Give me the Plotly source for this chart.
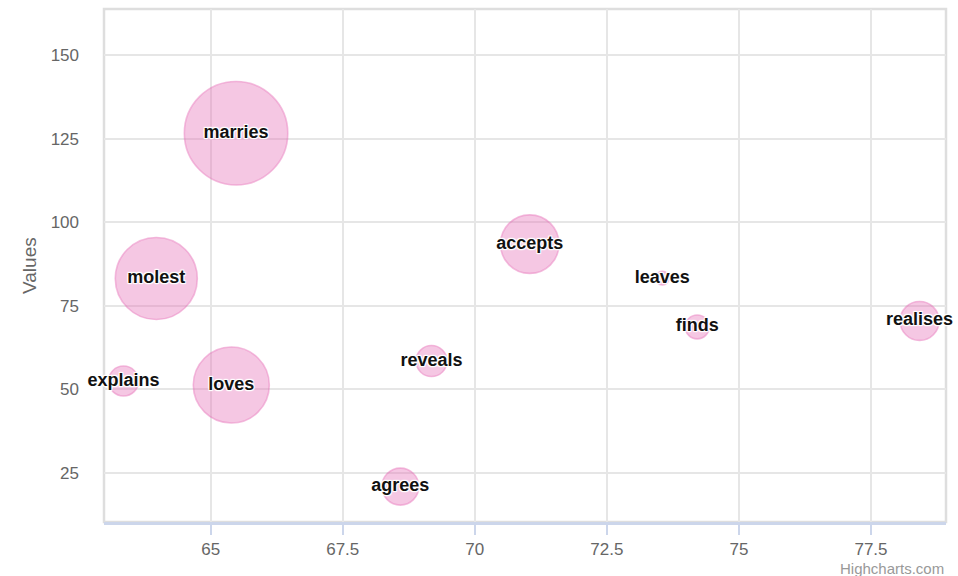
import plotly.graph_objects as go

# ---- data ----
names = ["marries", "molest", "loves", "explains", "accepts", "reveals",
         "agrees", "leaves", "finds", "realises"]
x_vals = [65.48, 63.97, 65.39, 63.35, 71.04, 69.18, 68.59, 73.55, 74.21, 78.42]
y_vals = [126.6, 83.1, 51.2, 52.4, 93.4, 58.4, 20.8, 83.2, 68.6, 70.4]
z_vals = [100, 58.4, 48.8, 4.3, 25.8, 4.7, 7.7, 1, 2.3, 8.9]

x_ticks = [65, 67.5, 70, 72.5, 75, 77.5]
y_ticks = [25, 50, 75, 100, 125, 150]

# ---- Highcharts-like bubble sizing (area based) ----
MIN_D, MAX_D = 13.6, 103.4
zmin, zmax = min(z_vals), max(z_vals)
diam = [MIN_D + ((z - zmin) / (zmax - zmin)) ** 0.5 * (MAX_D - MIN_D) for z in z_vals]

FONT = "Liberation Sans, Arial, Helvetica, sans-serif"
outline = ("1px 1px 1px #fff, -1px -1px 1px #fff, 1px -1px 1px #fff, "
           "-1px 1px 1px #fff, 0 1px 1px #fff, 0 -1px 1px #fff")

fig = go.Figure()
fig.add_trace(go.Scatter(
    x=x_vals, y=y_vals, mode="markers+text", text=names,
    textposition="middle center",
    textfont=dict(family=FONT, size=18, color="#111111", weight="bold", shadow=outline),
    marker=dict(size=diam, sizemode="diameter",
                color="rgba(229,97,177,0.5)",
                line=dict(color="rgba(229,97,177,0.6)", width=1.6)),
    cliponaxis=False, hoverinfo="skip", showlegend=False,
))

fig.update_layout(
    width=958, height=576,
    margin=dict(l=104, r=12, t=9, b=54),
    paper_bgcolor="white", plot_bgcolor="white",
    font=dict(family=FONT, color="#666666"),
    shapes=[dict(type="rect", xref="paper", yref="paper", x0=0, x1=1, y0=0, y1=1,
                 line=dict(color="#dedede", width=2.5), layer="below")],
    annotations=[
        dict(text="Values", xref="paper", yref="paper", x=-0.0885, y=0.5,
             xanchor="center", yanchor="middle", textangle=-90, showarrow=False,
             font=dict(family=FONT, size=19, color="#666666")),
        dict(text="Highcharts.com", xref="paper", yref="paper", x=1.0, y=-0.0897,
             xanchor="right", yanchor="middle", showarrow=False,
             font=dict(family=FONT, size=15, color="#999999")),
    ],
)

fig.update_xaxes(
    range=[62.98, 78.92], tickvals=x_ticks, ticktext=[str(v) for v in x_ticks],
    showgrid=True, gridcolor="#e6e6e6", gridwidth=2, zeroline=False,
    showline=True, linecolor="#ccd6eb", linewidth=3,
    ticks="outside", ticklen=10, tickwidth=2, tickcolor="#ccd6eb",
    tickfont=dict(family=FONT, size=17, color="#666666"),
)
fig.update_yaxes(
    range=[10.2, 163.8], tickvals=y_ticks, ticktext=[str(v) for v in y_ticks],
    showgrid=True, gridcolor="#e6e6e6", gridwidth=2, zeroline=False,
    showline=False, ticks="", ticklabelstandoff=24,
    tickfont=dict(family=FONT, size=17, color="#666666"),
)

fig.write_html("out.html", config={"displayModeBar": False},
               post_script="document.body.style.margin='0';document.body.style.overflow='hidden';")
